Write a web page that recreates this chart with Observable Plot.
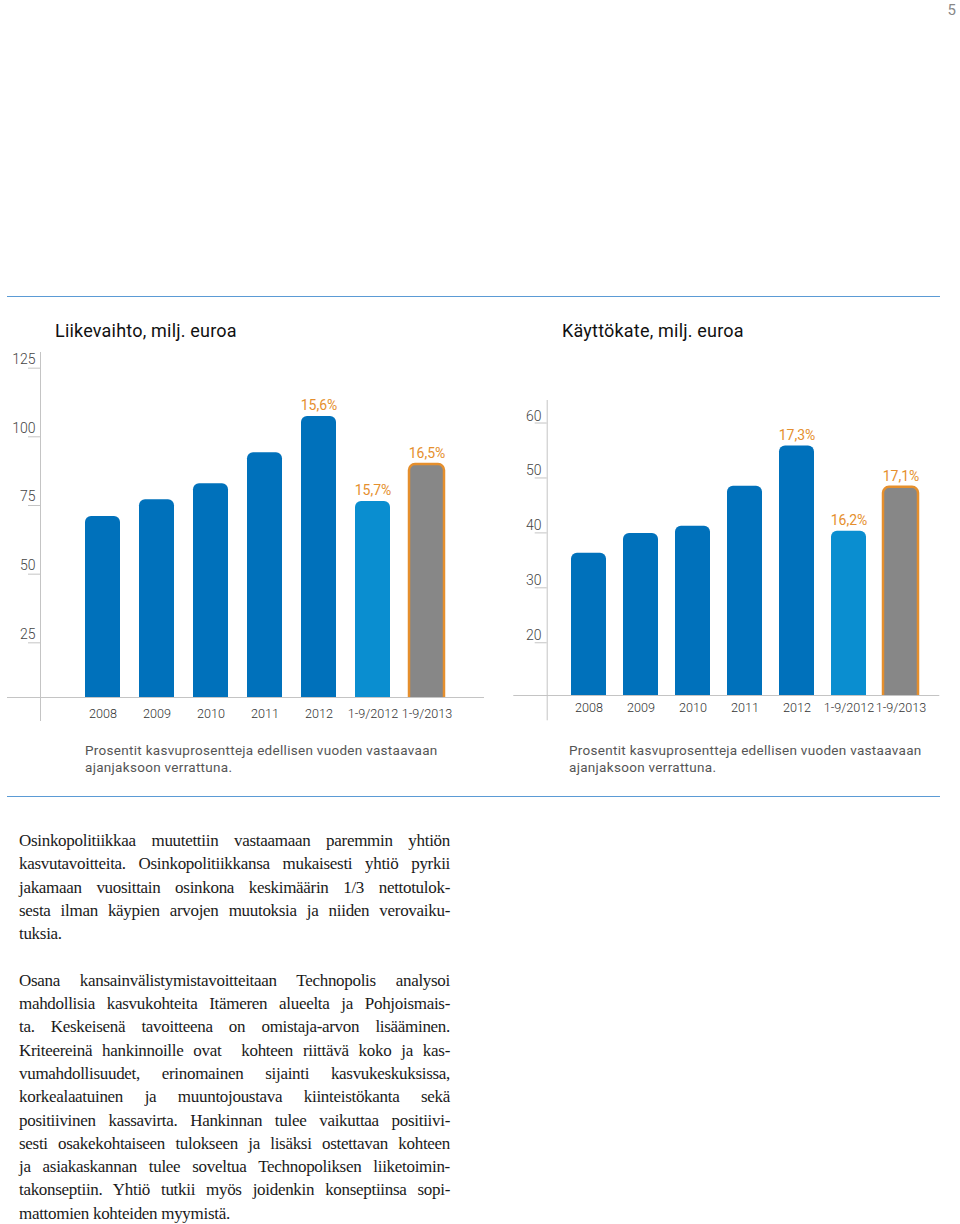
<!DOCTYPE html>
<html>
<head>
<meta charset="utf-8">
<script src="https://cdn.jsdelivr.net/npm/d3@7"></script>
<script src="https://cdn.jsdelivr.net/npm/@observablehq/plot@0.6"></script>
<style>
  body { margin: 0; background: #fff; }
  #page { position: relative; width: 960px; height: 1224px; overflow: hidden; font-family: Roboto, sans-serif; }
  .hr { position: absolute; height: 0; border-top: 1.5px solid #5b9bd5; }
  .title { position: absolute; font-size: 18px; line-height: 20px; color: #111; letter-spacing: 0.2px; white-space: nowrap; }
  .note { position: absolute; font-size: 13.5px; line-height: 17px; color: #555; white-space: nowrap; letter-spacing: 0.3px; }
  .chart { position: absolute; }
  .body { position: absolute; left: 19px; width: 431px; font-family: "Liberation Serif", serif; font-size: 17px; letter-spacing: -0.3px; line-height: 23.3px; color: #1a1a1a; }
  .body div { text-align: justify; text-align-last: justify; }
  .body div.last { text-align-last: left; }
  .pnum { position: absolute; right: 4px; top: 2px; font-size: 15px; line-height: 16px; color: #888; }
</style>
</head>
<body>
<div id="page">
  <div class="pnum">5</div>
  <div class="hr" style="left:7px; width:933px; top:296px;"></div>
  <div class="title" style="left:55px; top:321px;">Liikevaihto, milj. euroa</div>
  <div class="title" style="left:562px; top:321px;">Käyttökate, milj. euroa</div>
  <div class="chart" id="left" style="left:0px; top:340px;"></div>
  <div class="chart" id="right" style="left:480px; top:340px;"></div>
  <div class="note" style="left:85px; top:742px;">Prosentit kasvuprosentteja edellisen vuoden vastaavaan<br>ajanjaksoon verrattuna.</div>
  <div class="note" style="left:569px; top:742px;">Prosentit kasvuprosentteja edellisen vuoden vastaavaan<br>ajanjaksoon verrattuna.</div>
  <div class="hr" style="left:7px; width:933px; top:796px;"></div>
  <div class="body" style="top:829px;">
    <div>Osinkopolitiikkaa muutettiin vastaamaan paremmin yhtiön</div>
    <div>kasvutavoitteita. Osinkopolitiikkansa mukaisesti yhtiö pyrkii</div>
    <div>jakamaan vuosittain osinkona keskimäärin 1/3 nettotulok-</div>
    <div>sesta ilman käypien arvojen muutoksia ja niiden verovaiku-</div>
    <div class="last">tuksia.</div>
    <div class="last">&nbsp;</div>
    <div>Osana kansainvälistymistavoitteitaan Technopolis analysoi</div>
    <div>mahdollisia kasvukohteita Itämeren alueelta ja Pohjoismais-</div>
    <div>ta. Keskeisenä tavoitteena on omistaja-arvon lisääminen.</div>
    <div>Kriteereinä hankinnoille ovat&nbsp; kohteen riittävä koko ja kas-</div>
    <div>vumahdollisuudet, erinomainen sijainti kasvukeskuksissa,</div>
    <div>korkealaatuinen ja muuntojoustava kiinteistökanta sekä</div>
    <div>positiivinen kassavirta. Hankinnan tulee vaikuttaa positiivi-</div>
    <div>sesti osakekohtaiseen tulokseen ja lisäksi ostettavan kohteen</div>
    <div>ja asiakaskannan tulee soveltua Technopoliksen liiketoimin-</div>
    <div>takonseptiin. Yhtiö tutkii myös joidenkin konseptiinsa sopi-</div>
    <div class="last">mattomien kohteiden myymistä.</div>
  </div>
</div>
<script>
// ---- data ----
const categories = ["2008", "2009", "2010", "2011", "2012", "1-9/2012", "1-9/2013"];
const periodType = ["year", "year", "year", "year", "year", "prev", "current"];
const revenue = [71.0, 77.1, 82.9, 94.2, 107.4, 76.5, 89.9];
const revenueGrowth = [null, null, null, null, "15,6%", "15,7%", "16,5%"];
const ebitda = [36.3, 39.9, 41.2, 48.5, 55.8, 40.3, 48.3];
const ebitdaGrowth = [null, null, null, null, "17,3%", "16,2%", "17,1%"];
const revenueTicks = [25, 50, 75, 100, 125];
const ebitdaTicks = [20, 30, 40, 50, 60];

const ORANGE = "#e58f2d";
const AXIS = "#c4c4c4";

function chart(o) {
  const data = categories.map((c, i) => ({cat: c, type: periodType[i], value: o.values[i], growth: o.growth[i]}));
  return Plot.plot({
    width: o.width, height: o.height,
    marginTop: o.marginTop, marginBottom: o.marginBottom,
    marginLeft: o.marginLeft, marginRight: o.marginRight,
    style: {fontFamily: "Roboto, sans-serif", background: "transparent", overflow: "visible"},
    x: {domain: categories, padding: o.padding, axis: null},
    y: {domain: o.domain, axis: null},
    color: {domain: ["year", "prev", "current"], range: ["#0071bb", "#0a8ed0", "#878787"]},
    marks: [
      Plot.frame({anchor: "left", dx: o.axisDx, insetBottom: o.axisInsetBottom, stroke: AXIS}),
      Plot.frame({anchor: "bottom", insetLeft: o.baseInsetLeft, insetRight: o.baseInsetRight, stroke: AXIS}),
      Plot.axisY({ticks: o.ticks, tickSize: 12, dx: o.axisDx, tickFormat: () => "", stroke: AXIS, label: null}),
      Plot.axisY({ticks: o.ticks, tickSize: 0, tickPadding: o.tickPadding, dx: o.axisDx, dy: o.labelDy, fontSize: 14, fontWeight: 300, fill: "#444", label: null}),
      Plot.axisX({tickSize: 0, tickPadding: o.xPad, fontSize: 12.6, fontWeight: 300, fill: "#333", label: null}),
      Plot.barY(data, {x: "cat", y: "value", fill: "type", rx: 6, clip: true}),
      Plot.barY(data, {filter: d => d.type === "current", x: "cat", y: "value", fill: "#878787", stroke: ORANGE, strokeWidth: 2.5, rx: 6, clip: true}),
      Plot.text(data, {filter: d => d.growth, x: "cat", y: "value", text: "growth", dy: -11, fill: ORANGE, fontSize: 14})
    ]
  });
}

document.getElementById("left").appendChild(chart({
  values: revenue, growth: revenueGrowth, ticks: revenueTicks,
  domain: [5.1, 130.7],
  width: 490, height: 400, marginTop: 12, marginBottom: 43, marginLeft: 63.5, marginRight: 23.5,
  padding: 0.35, axisDx: -23.5, axisInsetBottom: -23, baseInsetLeft: -56.5, baseInsetRight: -16.5,
  tickPadding: 5, labelDy: -8.5, xPad: 12
}));

document.getElementById("right").appendChild(chart({
  values: ebitda, growth: ebitdaGrowth, ticks: ebitdaTicks,
  domain: [10.4, 64.1],
  width: 480, height: 400, marginTop: 60, marginBottom: 45, marginLeft: 71.3, marginRight: 22.2,
  padding: 0.324, axisDx: -4.6, axisInsetBottom: -24.3, baseInsetLeft: -38, baseInsetRight: -0.5,
  tickPadding: 5.7, labelDy: -7, xPad: 8
}));
</script>
</body>
</html>
